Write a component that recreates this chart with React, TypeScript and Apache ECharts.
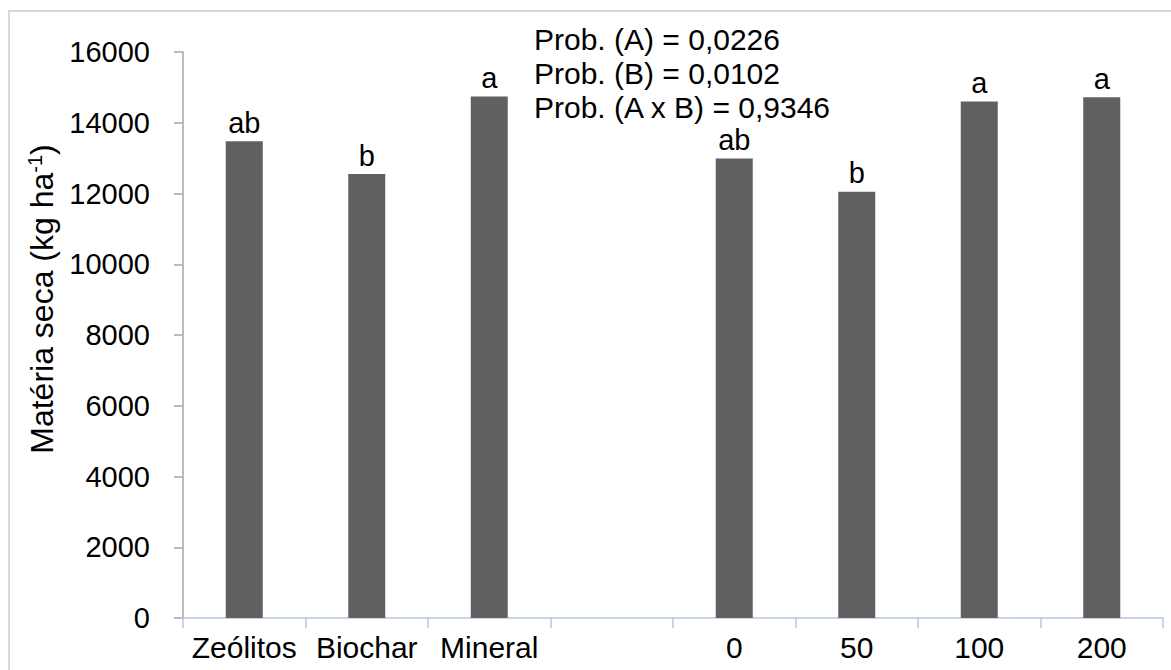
import React, { useEffect, useRef } from "react";
import * as echarts from "echarts";

const categories = ["Zeólitos", "Biochar", "Mineral", "", "0", "50", "100", "200"];
const values: (number | null)[] = [13480, 12550, 14740, null, 12990, 12050, 14600, 14720];
const letters = ["ab", "b", "a", "", "ab", "b", "a", "a"];
const probLines = ["Prob. (A) = 0,0226", "Prob. (B) = 0,0102", "Prob. (A x B) = 0,9346"];
const yTicks = { min: 0, max: 16000, interval: 2000 };

const FONT = "'Liberation Sans', Arial, sans-serif";

export default function App() {
  const ref = useRef<HTMLDivElement>(null);
  useEffect(() => {
    if (!ref.current) return;
    const chart = echarts.init(ref.current, undefined, { renderer: "svg" });
    chart.setOption({
      animation: false,
      backgroundColor: "#ffffff",
      textStyle: { fontFamily: FONT },
      grid: { left: 183, right: 8, top: 52, bottom: 52 },
      xAxis: {
        type: "category",
        data: categories,
        axisLine: { lineStyle: { color: "#b4c7e7", width: 1.5 } },
        axisTick: { show: true, length: 10, lineStyle: { color: "#b4c7e7", width: 1.5 } },
        axisLabel: { color: "#000", fontSize: 30, fontFamily: FONT, margin: 14, interval: 0 },
      },
      yAxis: {
        type: "value",
        min: yTicks.min,
        max: yTicks.max,
        interval: yTicks.interval,
        splitLine: { show: false },
        axisLine: { show: true, lineStyle: { color: "#a6a6a6", width: 1.5 } },
        axisTick: { show: true, length: 9, lineStyle: { color: "#a6a6a6", width: 1.5 } },
        axisLabel: {
          color: "#000",
          fontSize: 29,
          fontFamily: FONT,
          margin: 33,
          formatter: (v: number) => String(v),
        },
        name: "Matéria seca (kg ha{sup|-1})",
        nameLocation: "middle",
        nameGap: 120,
        nameRotate: 90,
        nameTextStyle: {
          color: "#000",
          fontSize: 32,
          fontFamily: FONT,
          padding: [0, 0, 0, 72],
          rich: {
            sup: { fontSize: 20, fontFamily: FONT, color: "#000", verticalAlign: "top", padding: [0, 0, 15, 0] },
          },
        },
      },
      series: [
        {
          type: "bar",
          data: values,
          barWidth: 37,
          itemStyle: { color: "#606060" },
          label: {
            show: true,
            position: "top",
            distance: 4,
            color: "#000",
            fontSize: 29,
            fontFamily: FONT,
            formatter: (p: any) => letters[p.dataIndex] || "",
          },
        },
      ],
      graphic: [
        {
          type: "rect",
          shape: { x: 9, y: 11, width: 1200, height: 700 },
          style: { fill: "none", stroke: "#d9d9d9", lineWidth: 2 },
          silent: true,
          z: -1,
        },
        {
          type: "text",
          x: 534,
          y: 22,
          style: {
            text: probLines.join("\n"),
            font: `30px ${FONT}`,
            fill: "#000",
            lineHeight: 34,
          },
        },
      ],
    });
    return () => chart.dispose();
  }, []);
  return (
    <div
      ref={ref}
      style={{ position: "fixed", left: 0, top: 0, width: 1171, height: 670 }}
    />
  );
}
